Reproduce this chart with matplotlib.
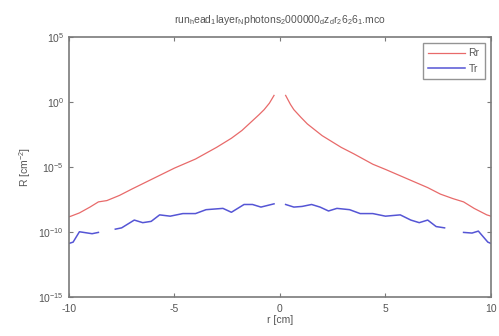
import numpy as np
import matplotlib
matplotlib.use("Agg")
import matplotlib.pyplot as plt

plt.rcParams['font.family'] = ['Liberation Sans', 'DejaVu Sans']
plt.rcParams['mathtext.default'] = 'regular'

# Rr (reflectance) : radius [cm] and log10 of R [cm^-2]
rr_r = [-10, -9.9, -9.5, -9.0, -8.6, -8.2, -7.6, -7.0, -6.0, -5.0, -4.0, -3.0, -2.3, -1.8, -1.4, -1.0, -0.75, -0.5, -0.28,
        np.nan,
        0.27, 0.5, 0.66, 1.0, 1.3, 2.0, 2.9, 3.5, 4.4, 5.0, 6.0, 7.0, 7.6, 8.2, 8.7, 9.2, 9.8, 10]
rr_log = [-8.85, -8.8, -8.55, -8.1, -7.7, -7.6, -7.2, -6.7, -5.9, -5.1, -4.4, -3.5, -2.8, -2.2, -1.6, -1.0, -0.6, -0.1, 0.5,
          np.nan,
          0.5, -0.2, -0.6, -1.2, -1.7, -2.6, -3.5, -4.0, -4.8, -5.2, -5.9, -6.6, -7.1, -7.45, -7.7, -8.2, -8.7, -8.8]

# Tr (transmittance)
tr_r = [-10, -9.8, -9.5, -9.3, -9.1, -8.9, -8.6, np.nan, -7.8, -7.5, -7.2, -6.9, -6.5, -6.1, -5.7, -5.2, -4.6, -4.0,
        -3.5, -2.7, -2.3, -1.7, -1.3, -0.9, -0.28,
        np.nan,
        0.27, 0.66, 1.05, 1.5, 1.9, 2.3, 2.7, 3.3, 3.8, 4.4, 5.0, 5.7, 6.2, 6.6, 7.0, 7.4, 7.8, np.nan,
        8.7, 9.1, 9.4, 9.85, 10]
tr_log = [-10.9, -10.8, -10.0, -10.05, -10.1, -10.15, -10.05, np.nan, -9.8, -9.7, -9.4, -9.1, -9.3, -9.2, -8.7, -8.8,
          -8.6, -8.6, -8.3, -8.2, -8.5, -7.9, -7.9, -8.1, -7.85,
          np.nan,
          -7.9, -8.1, -8.05, -7.9, -8.1, -8.4, -8.2, -8.3, -8.6, -8.6, -8.8, -8.7, -9.1, -9.3, -9.1, -9.6, -9.7, np.nan,
          -10.05, -10.1, -9.95, -10.8, -10.9]

xticks = [-10, -5, 0, 5, 10]
yticks = [1e-15, 1e-10, 1e-5, 1e0, 1e5]
ytick_labels = [r'$10^{-15}$', r'$10^{-10}$', r'$10^{-5}$', r'$10^{0}$', r'$10^{5}$']

fig = plt.figure(figsize=(4.99, 3.36), dpi=100)
ax = fig.add_axes([0.138, 0.117, 0.846, 0.773])

gray = '#7a7a7a'
txt = '#555555'

ax.plot(rr_r, 10 ** np.array(rr_log, dtype=float), color='#e86a6a', lw=0.9, label='Rr')
ax.plot(tr_r, 10 ** np.array(tr_log, dtype=float), color='#5555d5', lw=1.1, label='Tr')

ax.set_yscale('log')
ax.set_xlim(-10, 10)
ax.set_ylim(1e-15, 1e5)
ax.set_xticks(xticks)
ax.set_xticklabels([str(t) for t in xticks])
ax.set_yticks(yticks)
ax.set_yticklabels(ytick_labels)
ax.minorticks_off()
ax.tick_params(direction='in', length=3, width=0.8, color=gray, labelcolor=txt, labelsize=7.5,
               top=True, right=True)
ax.tick_params(axis='x', pad=5)
for s in ax.spines.values():
    s.set_color(gray)
    s.set_linewidth(1.2)

ax.set_xlabel('r [cm]', fontsize=7.5, color=txt, labelpad=1)
ax.set_ylabel(r'R [cm$^{-2}$]', fontsize=7.5, color=txt, labelpad=4)
ax.set_title(r'run$_h$ead$_1$layer$_N$photons$_2$000000$_d$z$_d$r$_2$6$_2$6$_1$.mco',
             fontsize=7.5, color=txt, pad=10)

leg = ax.legend(loc='upper right', fontsize=7.5, frameon=True, fancybox=False,
                handlelength=3.6, handletextpad=0.3, borderpad=0.5, labelspacing=0.5,
                borderaxespad=0.6)
leg.get_frame().set_edgecolor(gray)
leg.get_frame().set_linewidth(1.0)
for t in leg.get_texts():
    t.set_color(txt)

fig.savefig('out.png', dpi=100)
